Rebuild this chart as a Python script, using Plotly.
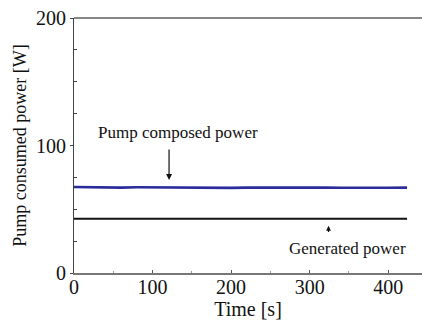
import plotly.graph_objects as go

# Measured pump power over time
time_s = [0, 20, 40, 60, 80, 100, 120, 140, 160, 180, 200, 220, 240, 260,
          280, 300, 320, 340, 360, 380, 400, 424]
pump_power_w = [67.4, 67.2, 67.3, 67.0, 67.2, 67.1, 66.9, 67.0, 67.2, 67.0,
                66.8, 67.0, 67.1, 66.9, 67.0, 67.1, 67.0, 66.9, 67.1, 67.0,
                66.9, 67.0]
generated_power_w = [42.5] * len(time_s)

x_ticks = [0, 100, 200, 300, 400]
y_ticks = [0, 100, 200]

serif = "'Times New Roman', 'Liberation Serif', 'DejaVu Serif', serif"

fig = go.Figure()
fig.add_trace(go.Scatter(x=time_s, y=generated_power_w, mode="lines",
                         line=dict(color="#111111", width=2), showlegend=False))
fig.add_trace(go.Scatter(x=time_s, y=pump_power_w, mode="lines",
                         line=dict(color="#2b2c9c", width=2.6), showlegend=False))

fig.add_annotation(x=121, y=73, ax=121, ay=98, xref="x", yref="y",
                   axref="x", ayref="y", text="", showarrow=True,
                   arrowhead=2, arrowsize=1, arrowwidth=1.2, arrowcolor="#111")
fig.add_annotation(x=132, y=110, xref="x", yref="y", text="Pump composed power",
                   showarrow=False, font=dict(family=serif, size=17, color="#111"))
fig.add_annotation(x=324, y=37, ax=324, ay=31, xref="x", yref="y",
                   axref="x", ayref="y", text="", showarrow=True,
                   arrowhead=2, arrowsize=0.8, arrowwidth=1.2, arrowcolor="#111")
fig.add_annotation(x=348, y=19.5, xref="x", yref="y", text="Generated power",
                   showarrow=False, font=dict(family=serif, size=17, color="#111"))

fig.update_layout(
    width=422, height=324,
    margin=dict(l=74, r=0, t=18, b=51),
    paper_bgcolor="white", plot_bgcolor="white",
    font=dict(family=serif, size=20, color="#111"),
    xaxis=dict(range=[0, 443], tickvals=x_ticks, showgrid=False, zeroline=False,
               showline=True, linecolor="#777", linewidth=1.5, mirror=False,
               ticks="inside", ticklen=3, tickcolor="#555",
               ticklabelstandoff=-5,
               minor=dict(tickvals=[50, 150, 250, 350], ticks="inside", ticklen=2,
                          tickcolor="#999"),
               title=dict(text="Time [s]", font=dict(size=20), standoff=0)),
    yaxis=dict(range=[0, 200], tickvals=y_ticks, showgrid=False, zeroline=False,
               showline=True, linecolor="#444", linewidth=1.2,
               ticks="outside", ticklen=3, tickcolor="#444",
               minor=dict(tickvals=[25, 50, 75, 125, 150, 175], ticks="inside",
                          ticklen=3, tickcolor="#444"),
               title=dict(text="Pump consumed power [W]", font=dict(size=18),
                          standoff=4)),
)
# top border line
fig.add_shape(type="line", xref="paper", yref="paper", x0=0, x1=1, y0=1, y1=1,
              line=dict(color="#888", width=2))

fig.write_html("out.html")
